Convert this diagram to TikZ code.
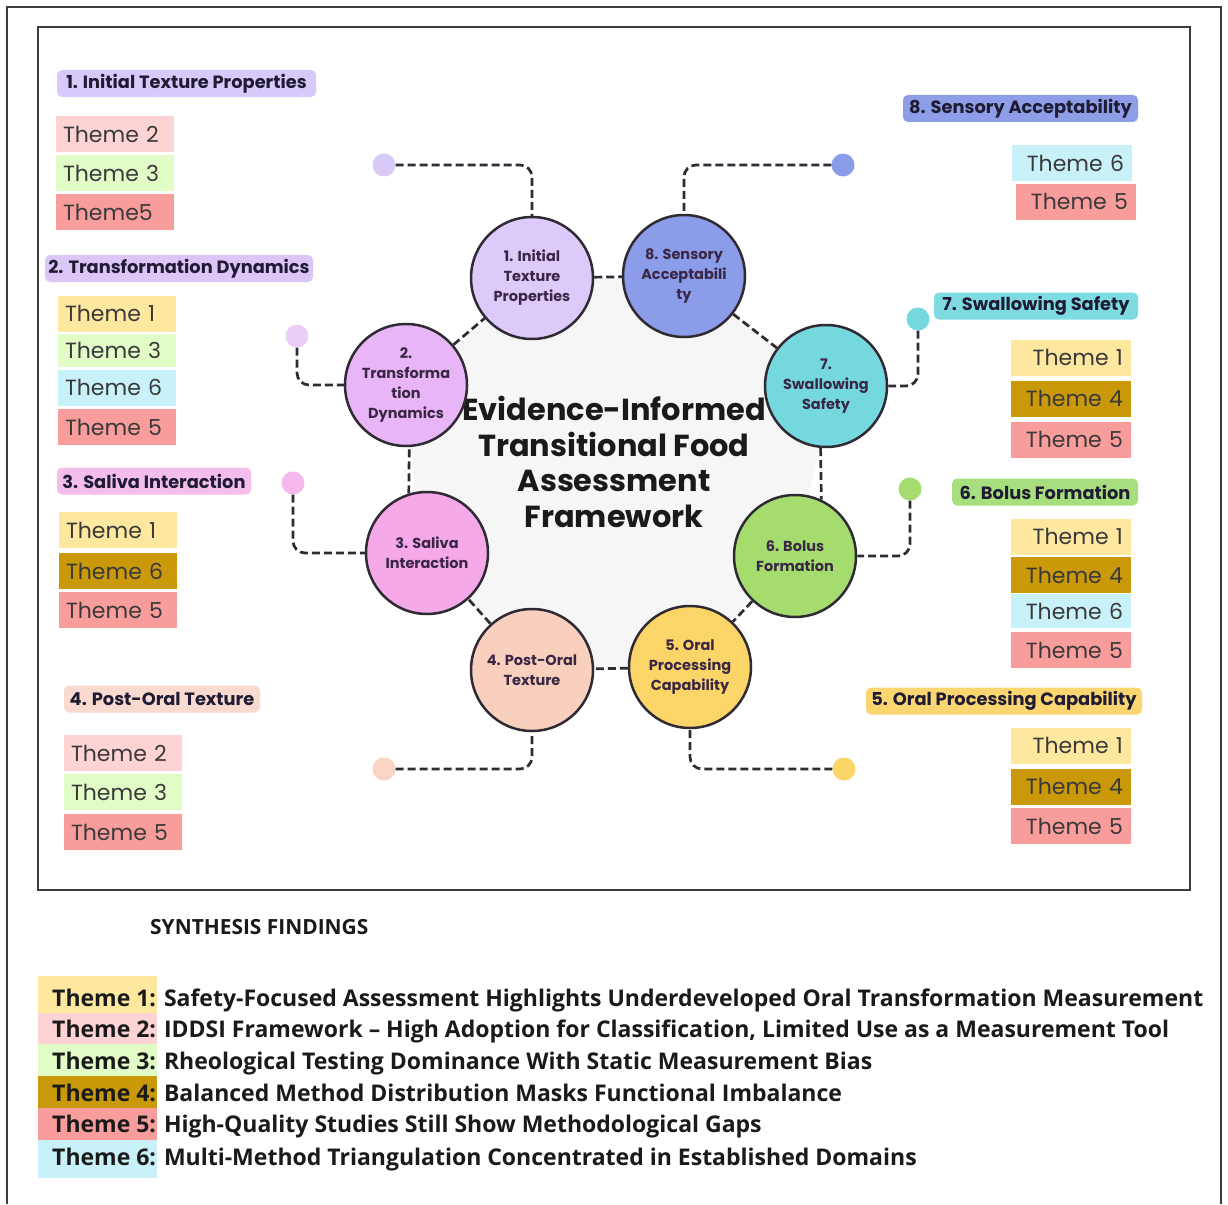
\documentclass[tikz,border=0pt]{standalone}
\usepackage{fontspec}
\newfontfamily\pop{Poppins}
\newfontfamily\legfont{Open Sans}
\definecolor{C1}{HTML}{DCCBFA}
\definecolor{C2}{HTML}{E8B5F6}
\definecolor{C3}{HTML}{F5A9E9}
\definecolor{C4}{HTML}{F9CFBD}
\definecolor{C5}{HTML}{FBD567}
\definecolor{C6}{HTML}{A4DD6D}
\definecolor{C7}{HTML}{75D8DF}
\definecolor{C8}{HTML}{8B9CE8}
\definecolor{D1}{HTML}{D8CAF6}
\definecolor{D2}{HTML}{EBCDF6}
\definecolor{D3}{HTML}{F5B8EA}
\definecolor{D4}{HTML}{F9D3C4}
\definecolor{G1}{HTML}{D7C9F9}
\definecolor{G2}{HTML}{DCC5F7}
\definecolor{G3}{HTML}{F4BDEB}
\definecolor{G4}{HTML}{FAD9CF}
\definecolor{G5}{HTML}{FBD56F}
\definecolor{G6}{HTML}{A8DF7E}
\definecolor{G7}{HTML}{7FDBE2}
\definecolor{G8}{HTML}{8E9EE6}
\definecolor{T1}{HTML}{FEE8A0}
\definecolor{T2}{HTML}{FDD3D3}
\definecolor{T3}{HTML}{E2FCC8}
\definecolor{T4}{HTML}{C9990A}
\definecolor{T5}{HTML}{F99C9C}
\definecolor{T6}{HTML}{C9F1F9}
\definecolor{cline}{HTML}{2F2A33}
\definecolor{ctext}{HTML}{3A2745}
\definecolor{tagtext}{HTML}{1E1B33}
\definecolor{thtext}{HTML}{3A3A3A}
\definecolor{legtext}{HTML}{1A1A1A}
\definecolor{frame}{HTML}{3C3C3C}
\definecolor{centre}{HTML}{F6F6F6}
\tikzset{
  circ/.style={circle, draw=cline, line width=2.5pt, minimum size=122pt, inner sep=0pt,
    align=center, text=ctext, font=\pop\bfseries\fontsize{14.5}{20}\selectfont},
  dot/.style={circle, minimum size=23pt, inner sep=0pt},
  link/.style={draw=cline, line width=2.7pt, dash pattern=on 8pt off 4pt, rounded corners=12pt},
  tag/.style={rounded corners=5pt, inner sep=0pt, minimum height=27pt, text=tagtext,
    font=\pop\bfseries\fontsize{17.8}{20}\selectfont},
  thmL/.style={inner xsep=7pt, inner ysep=0pt, text width=104pt, align=left, minimum height=36pt,
    text=thtext, font=\pop\fontsize{22}{26}\selectfont},
  thmR/.style={inner xsep=8pt, inner ysep=0pt, text width=104pt, align=right, minimum height=36pt,
    text=thtext, font=\pop\fontsize{22}{26}\selectfont},
  leg/.style={anchor=base west, inner sep=0pt, text=legtext, font=\legfont\bfseries\fontsize{23}{26}\selectfont}
}
\begin{document}
\begin{tikzpicture}[x=1pt,y=-1pt]
\useasboundingbox (0,0) rectangle (1228,1204);
\fill[white] (0,0) rectangle (1228,1204);
% frames
\draw[frame, line width=1.6pt] (7,1204) -- (7,7) -- (1221,7) -- (1221,1204);
\draw[frame, line width=1.6pt] (38,27) rectangle (1190,890);
% circle centres
\coordinate (p1) at (532,278);
\coordinate (p8) at (684,276);
\coordinate (p2) at (406,385);
\coordinate (p7) at (826,386);
\coordinate (p3) at (427,553);
\coordinate (p6) at (795,556);
\coordinate (p4) at (532,670);
\coordinate (p5) at (690,667);
\fill[centre] (p1) -- (p8) -- (p7) -- (820,446) -- (p6) -- (p5) -- (p4) -- (p3) -- (409,446) -- (p2) -- cycle;
% title
\node[align=center, text=legtext, font=\pop\bfseries\fontsize{30.4}{35.5}\selectfont] (title) at (614,462)
  {Evidence-Informed\\Transitional Food\\Assessment\\Framework};
% circles
\node[circ, fill=C1] (c1) at (p1) {1. Initial\\Texture\\Properties};
\node[circ, fill=C8] (c8) at (p8) {8. Sensory\\Acceptabili\\ty};
\node[circ, fill=C2] (c2) at (p2) {2.\\Transforma\\tion\\Dynamics};
\node[circ, fill=C7] (c7) at (p7) {7.\\Swallowing\\Safety};
\node[circ, fill=C3] (c3) at (p3) {3. Saliva\\Interaction};
\node[circ, fill=C6] (c6) at (p6) {6. Bolus\\Formation};
\node[circ, fill=C4] (c4) at (p4) {4. Post-Oral\\Texture};
\node[circ, fill=C5] (c5) at (p5) {5. Oral\\Processing\\Capability};
% ring links
\draw[link] (c1) -- (c8);
\draw[link] (c8) -- (c7);
\draw[link] (c7.-95.6) -- (c6.65.8);
\draw[link] (c6) -- (c5);
\draw[link] (c5) -- (c4);
\draw[link] (c4) -- (c3);
\draw[link] (c3.107) -- (c2.-87);
\draw[link] (c2) -- (c1);
% outer dots
\node[dot, fill=D1] (d1) at (384,165) {};
\node[dot, fill=C8] (d8) at (843,165) {};
\node[dot, fill=D2] (d2) at (297,336) {};
\node[dot, fill=C7] (d7) at (918,319) {};
\node[dot, fill=D3] (d3) at (293,483) {};
\node[dot, fill=C6] (d6) at (910,489) {};
\node[dot, fill=D4] (d4) at (384,769) {};
\node[dot, fill=C5] (d5) at (844,769) {};
\draw[link] (d1.east) -| (c1.north);
\draw[link] (d8.west) -| (c8.north);
\draw[link] (d2.south) |- (c2.west);
\draw[link] (d7.south) |- (c7.east);
\draw[link] (d3.south) |- (c3.west);
\draw[link] (d6.south) |- (c6.east);
\draw[link] (d4.east) -| (c4.south);
\draw[link] (d5.west) -| (c5.south);
% left tags
\node[tag, fill=G1, minimum width=259pt] (g1) at (186.5,83.5) {1. Initial Texture Properties};
\node[thmL, fill=T2] (g1a) at (115,134) {Theme 2};
\node[thmL, fill=T3] (g1b) at (115,173) {Theme 3};
\node[thmL, fill=T5] (g1c) at (115,212) {Theme5};
\node[tag, fill=G2, minimum width=268pt] (g2) at (179,268.5) {2. Transformation Dynamics};
\node[thmL, fill=T1] (g2a) at (117,313.5) {Theme 1};
\node[thmL, fill=T3, minimum height=33pt] (g2b) at (117,350) {Theme 3};
\node[thmL, fill=T6] (g2c) at (117,387.5) {Theme 6};
\node[thmL, fill=T5] (g2d) at (117,427) {Theme 5};
\node[tag, fill=G3, minimum width=194pt] (g3) at (154,481) {3. Saliva Interaction};
\node[thmL, fill=T1] (g3a) at (118,530) {Theme 1};
\node[thmL, fill=T4] (g3b) at (118,571) {Theme 6};
\node[thmL, fill=T5] (g3c) at (118,610) {Theme 5};
\node[tag, fill=G4, minimum width=196pt] (g4) at (162,699) {4. Post-Oral Texture};
\node[thmL, fill=T2] (g4a) at (123,753) {Theme 2};
\node[thmL, fill=T3] (g4b) at (123,792) {Theme 3};
\node[thmL, fill=T5] (g4c) at (123,832) {Theme 5};
% right tags
\node[tag, fill=G8, minimum width=235pt] (g8) at (1020.5,108.5) {8. Sensory Acceptability};
\node[thmR, fill=T6] (g8a) at (1072,163) {Theme 6};
\node[thmR, fill=T5] (g8b) at (1076,201.5) {Theme 5};
\node[tag, fill=G7, minimum width=204pt] (g7) at (1036,306) {7. Swallowing Safety};
\node[thmR, fill=T1] (g7a) at (1071,357.5) {Theme 1};
\node[thmR, fill=T4] (g7b) at (1071,398.5) {Theme 4};
\node[thmR, fill=T5] (g7c) at (1071,439.5) {Theme 5};
\node[tag, fill=G6, minimum width=186pt] (g6) at (1045,492) {6. Bolus Formation};
\node[thmR, fill=T1] (g6a) at (1071,536.5) {Theme 1};
\node[thmR, fill=T4] (g6b) at (1071,575) {Theme 4};
\node[thmR, fill=T6, minimum height=34pt] (g6c) at (1071,611) {Theme 6};
\node[thmR, fill=T5] (g6d) at (1071,650) {Theme 5};
\node[tag, fill=G5, minimum width=276pt] (g5) at (1004,701) {5. Oral Processing Capability};
\node[thmR, fill=T1] (g5a) at (1071,745.5) {Theme 1};
\node[thmR, fill=T4] (g5b) at (1071,786.5) {Theme 4};
\node[thmR, fill=T5] (g5c) at (1071,826) {Theme 5};
% synthesis findings
\node[anchor=base west, inner sep=0pt, text=legtext, font=\legfont\bfseries\fontsize{20.9}{24}\selectfont] (synth) at (150,934.5) {SYNTHESIS FINDINGS};
\fill[T1] (38,976) rectangle (157,1013);
\fill[T2] (38,1013) rectangle (157,1044);
\fill[T3] (38,1044) rectangle (157,1076);
\fill[T4] (38,1076) rectangle (157,1108);
\fill[T5] (38,1108) rectangle (157,1140);
\fill[T6] (38,1140) rectangle (157,1178);
\node[leg] (l1) at (52,1006.5) {Theme 1: Safety-Focused Assessment Highlights Underdeveloped Oral Transformation Measurement};
\node[leg] (l2) at (52,1037.5) {Theme 2: IDDSI Framework – High Adoption for Classification, Limited Use as a Measurement Tool};
\node[leg] (l3) at (52,1069.5) {Theme 3: Rheological Testing Dominance With Static Measurement Bias};
\node[leg] (l4) at (52,1101) {Theme 4: Balanced Method Distribution Masks Functional Imbalance};
\node[leg] (l5) at (52,1132.5) {Theme 5: High-Quality Studies Still Show Methodological Gaps};
\node[leg] (l6) at (52,1165) {Theme 6: Multi-Method Triangulation Concentrated in Established Domains};
\end{tikzpicture}
\end{document}
